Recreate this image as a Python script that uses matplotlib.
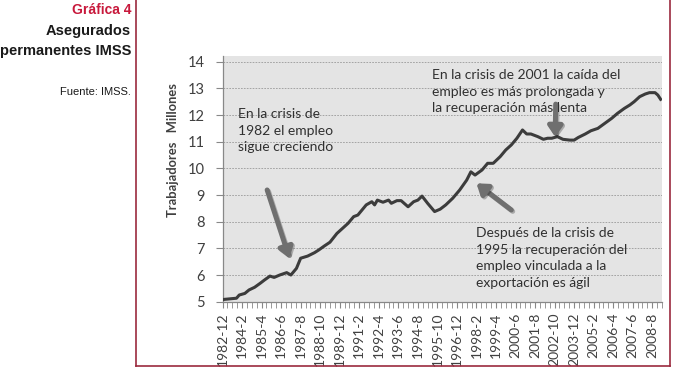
import matplotlib
matplotlib.use('Agg')
import matplotlib.pyplot as plt
import matplotlib.patheffects as pe
from matplotlib.lines import Line2D

# meses transcurridos desde 1982-12 y asegurados (millones)
mes = [0, 10, 12, 16, 19, 23, 27, 30, 34, 37, 41, 46, 49, 53, 56, 61, 66, 69, 73, 77,
       82, 86, 90, 94, 97, 100, 103, 107, 109, 111, 115, 119, 121, 125, 128, 133, 137,
       140, 143, 147, 152, 156, 160, 165, 170, 175, 178, 181, 186, 190, 194, 199, 203,
       207, 211, 215, 218, 221, 226, 230, 233, 236, 240, 244, 249, 252, 255, 260, 264,
       269, 274, 279, 283, 288, 292, 295, 299, 303, 306, 310, 312, 314]
asegurados = [5.08, 5.13, 5.25, 5.31, 5.44, 5.54, 5.69, 5.81, 5.96, 5.91, 6.00, 6.09,
              6.00, 6.25, 6.63, 6.71, 6.84, 6.94, 7.09, 7.23, 7.56, 7.75, 7.94, 8.19,
              8.25, 8.44, 8.63, 8.75, 8.63, 8.81, 8.73, 8.81, 8.69, 8.79, 8.79, 8.56,
              8.75, 8.81, 8.96, 8.69, 8.38, 8.47, 8.63, 8.88, 9.19, 9.56, 9.87, 9.75,
              9.94, 10.19, 10.19, 10.44, 10.69, 10.88, 11.13, 11.44, 11.29, 11.29,
              11.19, 11.09, 11.13, 11.13, 11.19, 11.09, 11.06, 11.06, 11.16, 11.29,
              11.41, 11.50, 11.69, 11.88, 12.06, 12.25, 12.38, 12.50, 12.69, 12.79,
              12.84, 12.84, 12.75, 12.59]

etiquetas = ['1982-12', '1984-2', '1985-4', '1986-6', '1987-8', '1988-10', '1989-12',
             '1991-2', '1992-4', '1993-6', '1994-8', '1995-10', '1996-12', '1998-2',
             '1999-4', '2000-6', '2001-8', '2002-10', '2003-12', '2005-2', '2006-4',
             '2007-6', '2008-8']
pos_etiquetas = [14 * i for i in range(len(etiquetas))]

gris = '#404040'
rojo = '#c8193c'
marco = '#9b2a3e'

fig = plt.figure(figsize=(6.79, 3.79), dpi=100)
fig.patch.set_facecolor('white')

ax = fig.add_axes([0.3277, 0.2040, 0.6473, 0.6472])
ax.set_facecolor('#e4e4e4')
ax.plot(mes, asegurados, color='#3c3c3c', lw=2.2, solid_joinstyle='round', zorder=3)
ax.set_xlim(0, 315)
ax.set_ylim(5, 14.2)
ax.set_yticks(range(5, 15))
ax.set_xticks(pos_etiquetas)
ax.set_xticklabels(etiquetas, rotation=90, family='Lato', fontsize=10, color=gris)
ax.set_xticks([3.5 * i for i in range(91)], minor=True)
for lab in ax.get_yticklabels():
    lab.set_family('Lato')
    lab.set_fontsize(10.5)
    lab.set_color(gris)
ax.tick_params(axis='y', length=5, color='#888888', pad=8)
ax.tick_params(axis='x', which='both', length=4, color='#888888', pad=4)
for y in range(5, 15):
    ax.axhline(y, color='#999999', lw=0.6, ls=(0, (2, 1.5)), zorder=1)
for s in ['top', 'right']:
    ax.spines[s].set_visible(False)
for s in ['left', 'bottom']:
    ax.spines[s].set_color('#888888')
    ax.spines[s].set_linewidth(0.9)

# textos dentro de la grafica
txt = dict(family='Lato', fontsize=10, color='#303030', va='top', ha='left',
           linespacing=1.45, zorder=5)
ax.text(11, 12.25, 'En la crisis de\n1982 el empleo\nsigue creciendo', **txt)
ax.text(150, 13.72, 'En la crisis de 2001 la caída del\nempleo es más prolongada y\n'
        'la recuperación más lenta', **txt)
ax.text(182, 7.8, 'Después de la crisis de\n1995 la recuperación del\n'
        'empleo vinculada a la\nexportación es ágil', **txt)

# flechas
flecha = dict(arrowstyle='-|>,head_length=0.5,head_width=0.35', lw=3.6,
              color='#6f6f6f', mutation_scale=12, shrinkA=0, shrinkB=0,
              path_effects=[pe.SimpleLineShadow(offset=(1, -1), alpha=0.25), pe.Normal()])
ax.annotate('', xy=(48, 6.63), xytext=(32, 9.19), arrowprops=flecha, zorder=6)
ax.annotate('', xy=(182, 9.44), xytext=(207, 8.44), arrowprops=flecha, zorder=6)
ax.annotate('', xy=(238.4, 11.18), xytext=(238.8, 12.41), arrowprops=flecha, zorder=6)

fig.text(173 / 679, 1 - 150 / 379, 'Trabajadores   Millones', rotation=90,
         family='Lato', fontweight='bold', fontsize=9.3, color=gris,
         ha='center', va='center')

# titulo a la izquierda
fig.text(131 / 679, 1 - 10 / 379, 'Gráfica 4', family='Liberation Sans',
         fontweight='bold', fontsize=10, color=rojo, ha='right', va='center')
fig.text(131 / 679, 1 - 31 / 379, 'Asegurados', family='Liberation Sans',
         fontweight='bold', fontsize=10.5, color='#1a1a1a', ha='right', va='center')
fig.text(131 / 679, 1 - 51 / 379, 'permanentes IMSS', family='Liberation Sans',
         fontweight='bold', fontsize=10.5, color='#1a1a1a', ha='right', va='center')
fig.text(131 / 679, 1 - 92 / 379, 'Fuente: IMSS.', family='Liberation Sans',
         fontsize=8, color='#1a1a1a', ha='right', va='center')

# marco rojo
W, H = 679.0, 379.0
fig.add_artist(Line2D([136 / W, 136 / W], [1, 1 - 366 / H], color=marco, lw=1.2))
fig.add_artist(Line2D([136 / W, 670 / W], [1 - 366 / H, 1 - 366 / H], color=marco, lw=1.2))
fig.add_artist(Line2D([670 / W, 670 / W], [1, 1 - 366 / H], color=marco, lw=1.2))

fig.savefig('out.png', dpi=100)
